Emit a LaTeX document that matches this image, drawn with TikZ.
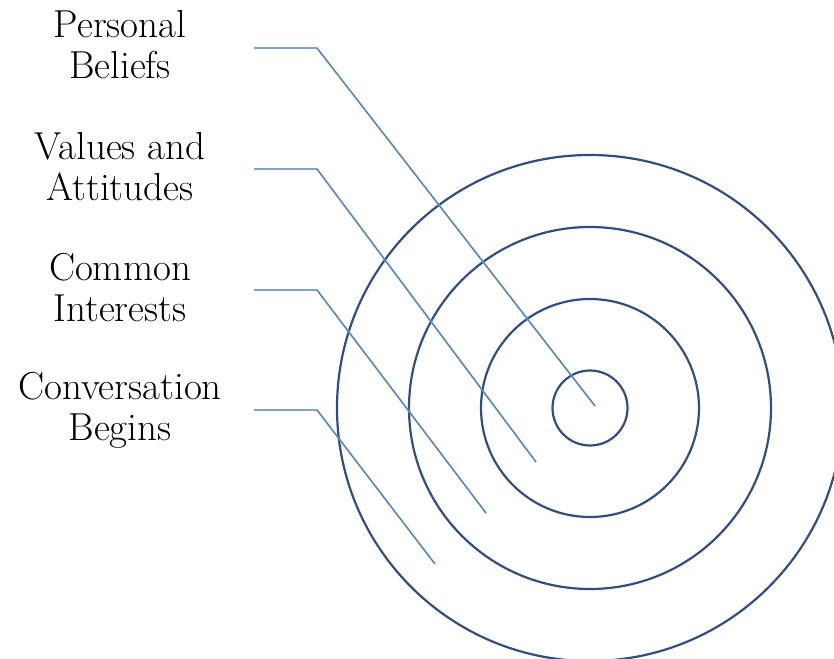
\documentclass[tikz,border=0pt]{standalone}
\usetikzlibrary{shapes.geometric}
\definecolor{lineblue}{RGB}{79,129,189}
\definecolor{ringblue}{RGB}{50,78,126}
\definecolor{shadowgray}{RGB}{200,200,200}
\tikzset{
  ring/.style={circle, draw=ringblue, line width=2.2pt, inner sep=0pt, fill=none},
  lbl/.style={font=\fontsize{39}{41}\selectfont, align=center, inner sep=0pt, anchor=base},
  conn/.style={draw=lineblue, line width=1.4pt},
  connshadow/.style={draw=shadowgray, line width=2pt, opacity=0.5}
}
\begin{document}
\begin{tikzpicture}[x=1pt,y=-1pt]
\useasboundingbox (0,0) rectangle (834,658);
\clip (0,0) rectangle (834,658);
% rings
\node[ring, minimum size=506pt] (c4) at (590,408) {};
\node[ring, minimum size=362pt] (c3) at (590,408) {};
\node[ring, minimum size=218pt] (c2) at (590,408) {};
\node[ring, minimum size=75pt] (c1) at (590,408) {};
% labels (anchor base = baseline of last line)
\node[lbl] (pb) at (120,79) {Personal\\Beliefs};
\node[lbl] (va) at (120,200) {Values and\\Attitudes};
\node[lbl] (ci) at (120,321) {Common\\Interests};
\node[lbl] (cb) at (120,440) {Conversation\\Begins};
% connector points
\coordinate (pbS) at (254,48);  \coordinate (pbK) at (317,48);  \coordinate (pbE) at (595,406);
\coordinate (vaS) at (254,169); \coordinate (vaK) at (317,169); \coordinate (vaE) at (536,462);
\coordinate (ciS) at (254,290); \coordinate (ciK) at (317,290); \coordinate (ciE) at (486,513);
\coordinate (cbS) at (254,410); \coordinate (cbK) at (317,410); \coordinate (cbE) at (435,564);
% shadows
\foreach \n in {pb,va,ci,cb}{
  \draw[connshadow, shift={(2,3)}] (\n S) -- (\n K) -- (\n E);
}
% connectors
\foreach \n in {pb,va,ci,cb}{
  \draw[conn] (\n S) -- (\n K) -- (\n E);
}
\end{tikzpicture}
\end{document}
